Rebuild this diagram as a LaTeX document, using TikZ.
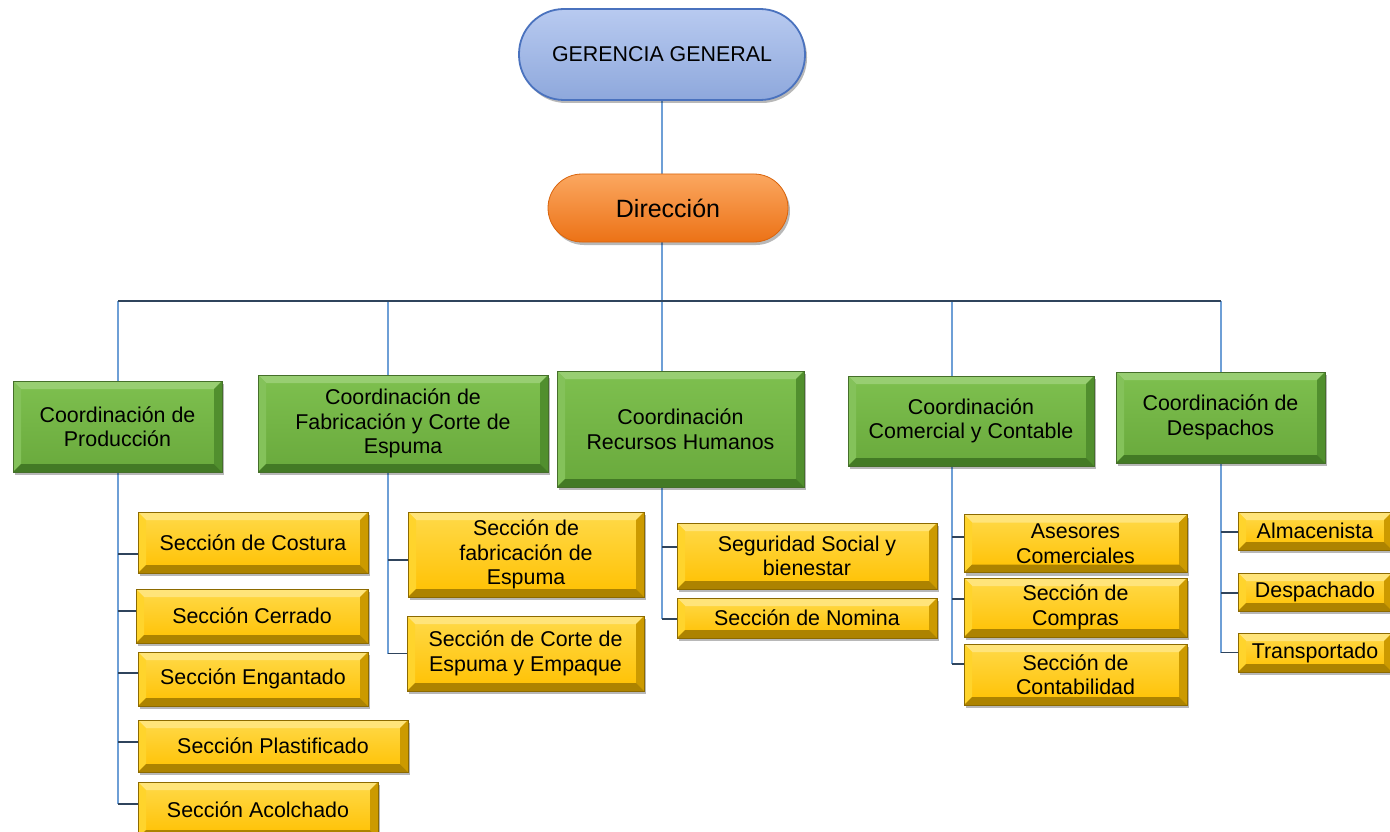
\documentclass[tikz,border=0pt]{standalone}
\usepackage{fontspec}
\setmainfont{Liberation Sans}
\usetikzlibrary{shadows}

\definecolor{linkblue}{HTML}{6E9FD6}
\definecolor{linkdark}{HTML}{2F445C}
\definecolor{grnTop}{HTML}{7EC04F}
\definecolor{grnBot}{HTML}{69A93C}
\definecolor{grnHi}{HTML}{98CE72}
\definecolor{grnSide}{HTML}{84C25A}
\definecolor{grnShade}{HTML}{518F2E}
\definecolor{grnDeep}{HTML}{437A25}
\definecolor{grnEdge}{HTML}{456F2A}
\definecolor{ylwTop}{HTML}{FFDA4A}
\definecolor{ylwBot}{HTML}{FFC000}
\definecolor{ylwHi}{HTML}{FFE47A}
\definecolor{ylwSide}{HTML}{FFD42C}
\definecolor{ylwShade}{HTML}{CC9A00}
\definecolor{ylwDeep}{HTML}{AD8300}
\definecolor{ylwEdge}{HTML}{8C6A00}
\definecolor{gerTop}{HTML}{B8CAF0}
\definecolor{gerBot}{HTML}{8EA8DC}
\definecolor{gerEdge}{HTML}{4A72BE}
\definecolor{dirTop}{HTML}{FBA760}
\definecolor{dirBot}{HTML}{EC7216}
\definecolor{dirEdge}{HTML}{D9640C}

\pgfdeclarelayer{paper}
\pgfdeclarelayer{links}
\pgfsetlayers{paper,links,main}

\tikzset{
  % bevelled facets painted inside a rectangular node
  bevel/.style n args={4}{path picture={
    \coordinate (pnw) at (path picture bounding box.north west);
    \coordinate (pne) at (path picture bounding box.north east);
    \coordinate (psw) at (path picture bounding box.south west);
    \coordinate (pse) at (path picture bounding box.south east);
    \fill[#1] (pnw) -- (pne) -- ([shift={(-8pt,-8pt)}]pne) -- ([shift={(8pt,-8pt)}]pnw) -- cycle;
    \fill[#2] (pnw) -- ([shift={(8pt,-8pt)}]pnw) -- ([shift={(8pt,8pt)}]psw) -- (psw) -- cycle;
    \fill[#3] (pne) -- (pse) -- ([shift={(-8pt,8pt)}]pse) -- ([shift={(-8pt,-8pt)}]pne) -- cycle;
    \fill[#4] (psw) -- (pse) -- ([shift={(-8pt,8pt)}]pse) -- ([shift={(8pt,8pt)}]psw) -- cycle;
  }},
  sz/.style 2 args={minimum width=#1pt, minimum height=#2pt},
  basebox/.style={rectangle, inner sep=0pt, align=center, text=black,
    font=\fontsize{21.4}{24.5}\selectfont,
    drop shadow={shadow xshift=2pt, shadow yshift=-3pt, fill=black, opacity=0.28}},
  coordbox/.style={basebox, top color=grnTop, bottom color=grnBot,
    draw=grnEdge, line width=0.6pt,
    bevel={grnHi}{grnSide}{grnShade}{grnDeep}},
  secbox/.style={basebox, top color=ylwTop, bottom color=ylwBot,
    draw=ylwEdge, line width=0.6pt,
    bevel={ylwHi}{ylwSide}{ylwShade}{ylwDeep}},
  pill/.style={basebox, rounded corners=#1},
  vline/.style={draw=linkblue, line width=1.8pt},
  stub/.style={draw=linkdark, line width=1.8pt},
  busline/.style={draw=linkdark, line width=2pt},
}

\begin{document}
\begin{tikzpicture}[x=1pt,y=-1pt]
\clip (0,0) rectangle (1390,832);
\begin{pgfonlayer}{paper}
  \fill[white] (0,0) rectangle (1390,832);
\end{pgfonlayer}

% top of the hierarchy
\node[pill=45pt, sz={286}{91}, top color=gerTop, bottom color=gerBot,
      draw=gerEdge, line width=1.8pt] (ger) at (662,54.5) {GERENCIA GENERAL};
\node[pill=34pt, sz={240}{68}, top color=dirTop, bottom color=dirBot,
      draw=dirEdge, line width=0.8pt, font=\fontsize{25}{28}\selectfont]
      (dir) at (668,208) {Dirección};

% coordinations
\node[coordbox, sz={209}{91}]  (g1) at (117.5,426.5) {Coordinación de\\Producción};
\node[coordbox, sz={290}{97}]  (g2) at (403,423.5)   {Coordinación de\\Fabricación y Corte de\\Espuma};
\node[coordbox, sz={247}{116}] (g3) at (680.5,429)   {Coordinación\\Recursos Humanos};
\node[coordbox, sz={246}{90}]  (g4) at (971,421)     {Coordinación\\Comercial y Contable};
\node[coordbox, sz={209}{91}]  (g5) at (1220.5,417.5){Coordinación de\\Despachos};

% sections: production
\node[secbox, sz={230}{61}] (c1) at (253,542.5) {Sección de Costura};
\node[secbox, sz={232}{54}] (c2) at (252,616)   {Sección Cerrado};
\node[secbox, sz={230}{54}] (c3) at (253,679)   {Sección Engantado};
\node[secbox, sz={270}{52}] (c4) at (273,746)   {Sección Plastificado};
\node[secbox, sz={240}{56}] (c5) at (258,810)   {Sección Acolchado};
% sections: foam
\node[secbox, sz={236}{85}] (f1) at (526,554.5)   {Sección de\\fabricación de\\Espuma};
\node[secbox, sz={237}{75}] (f2) at (525.5,653.5) {Sección de Corte de\\Espuma y Empaque};
% sections: human resources
\node[secbox, sz={260}{66}] (r1) at (807,556) {Seguridad Social y\\bienestar};
\node[secbox, sz={260}{40}] (r2) at (807,618) {Sección de Nomina};
% sections: commercial
\node[secbox, sz={223}{58}] (m1) at (1075.5,543.5) {Asesores\\Comerciales};
\node[secbox, sz={223}{59}] (m2) at (1075.5,607.5) {Sección de\\Compras};
\node[secbox, sz={223}{61}] (m3) at (1075.5,674.5) {Sección de\\Contabilidad};
% sections: dispatch
\node[secbox, sz={154}{38}] (d1) at (1315,531)   {Almacenista};
\node[secbox, sz={154}{38}] (d2) at (1315,592)   {Despachado};
\node[secbox, sz={154}{39}] (d3) at (1315,652.5) {Transportado};

% connectors
\begin{pgfonlayer}{links}
  \coordinate (b1) at (118,301);
  \coordinate (b2) at (388,301);
  \coordinate (b3) at (662,301);
  \coordinate (b4) at (952,301);
  \coordinate (b5) at (1221,301);

  \draw[vline] (ger.south) -- (ger.south |- dir.north);
  \draw[vline] (b3 |- dir.south) -- (b3 |- g3.north);
  \foreach \b/\g in {b1/g1, b2/g2, b4/g4, b5/g5}
    \draw[vline] (\b) -- (\b |- \g.north);
  \draw[busline] (b1) -- (b5);

  \foreach \n/\dy in {c1/-11.5, c2/5, c3/6, c4/4, c5/6, f1/-5.5, f2/0,
                      r1/9, r2/-1, m1/6.5, m2/8.5, m3/10.5, d1/-1, d2/-1, d3/0}
    \path ([yshift=\dy pt]\n.west) coordinate (s-\n);

  \draw[vline] (b1 |- g1.south) -- (b1 |- s-c5);
  \draw[vline] (b2 |- g2.south) -- (b2 |- s-f2);
  \draw[vline] (b3 |- g3.south) -- (b3 |- s-r2);
  \draw[vline] (b4 |- g4.south) -- (b4 |- s-m3);
  \draw[vline] (b5 |- g5.south) -- (b5 |- s-d3);

  \foreach \n/\b in {c1/b1, c2/b1, c3/b1, c4/b1, c5/b1, f1/b2, f2/b2,
                     r1/b3, r2/b3, m1/b4, m2/b4, m3/b4, d1/b5, d2/b5, d3/b5}
    \draw[stub] (\b |- s-\n) -- (s-\n);
\end{pgfonlayer}
\end{tikzpicture}
\end{document}
